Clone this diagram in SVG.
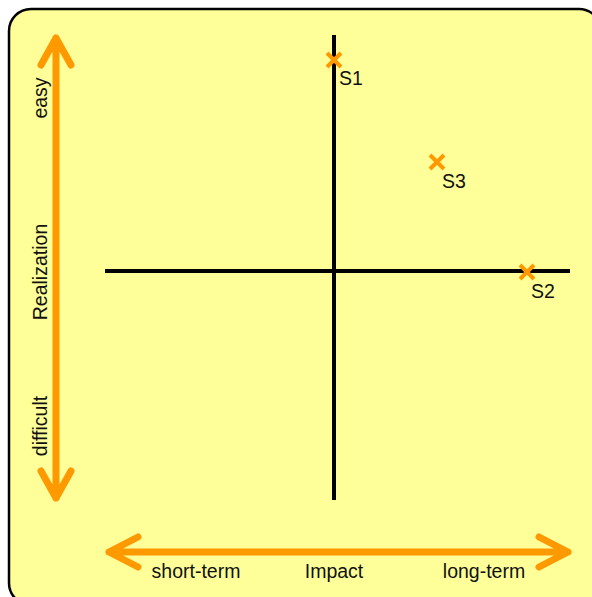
<svg xmlns="http://www.w3.org/2000/svg" width="592" height="597" viewBox="0 0 592 597">
<style>
.lbl{font-family:"Liberation Sans",Arial,sans-serif;font-size:19.5px;fill:#111}
.arr{stroke:#FF9900;stroke-width:7;fill:none;stroke-linecap:round;stroke-linejoin:round}
.ax{stroke:#000;stroke-width:4}
.x{stroke:#FF9900;stroke-width:4}
</style>
<rect x="9" y="9" width="592" height="596" rx="22" fill="#FFFF99" stroke="#000" stroke-width="2.5"/>
<g id="connectors">
<line class="ax" x1="334" y1="35" x2="334" y2="500"/>
<line class="ax" x1="105" y1="271" x2="570" y2="271"/>
<path class="arr" d="M56 38 V498 M41 65 L56 38 L71 65 M41 471 L56 498 L71 471"/>
<path class="arr" d="M109 552 H568 M138 537 L109 552 L138 567 M539 537 L568 552 L539 567"/>
</g>
<g id="S1"><path class="x" d="M327 53 L341 67 M341 53 L327 67"/><text class="lbl" x="339" y="85">S1</text></g>
<g id="S3"><path class="x" d="M430 155 L444 169 M444 155 L430 169"/><text class="lbl" x="442" y="188">S3</text></g>
<g id="S2"><path class="x" d="M520 265 L534 279 M534 265 L520 279"/><text class="lbl" x="531" y="298">S2</text></g>
<g id="yaxis-labels">
<text class="lbl" text-anchor="middle" transform="translate(47,98) rotate(-90)">easy</text>
<text class="lbl" text-anchor="middle" transform="translate(47,272) rotate(-90)">Realization</text>
<text class="lbl" text-anchor="middle" transform="translate(47,426) rotate(-90)">difficult</text>
</g>
<g id="xaxis-labels">
<text class="lbl" text-anchor="middle" x="196" y="578">short-term</text>
<text class="lbl" text-anchor="middle" x="334" y="578">Impact</text>
<text class="lbl" text-anchor="middle" x="484" y="578">long-term</text>
</g>
</svg>
